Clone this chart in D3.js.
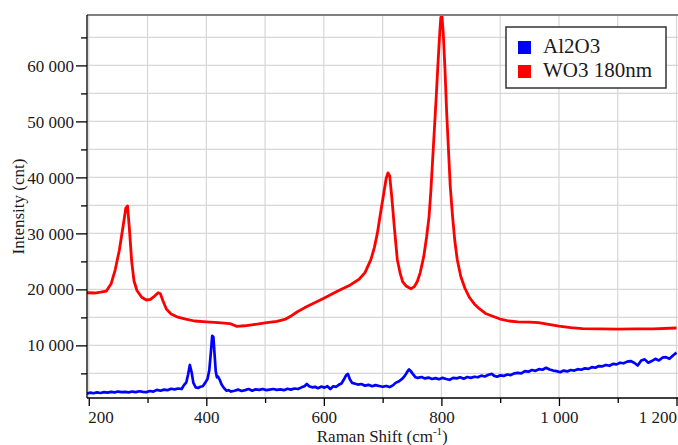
<!DOCTYPE html>
<html>
<head>
<meta charset="utf-8">
<script src="https://cdn.jsdelivr.net/npm/d3@7"></script>
<style>
  html, body { margin: 0; padding: 0; background: #fff; }
  svg { display: block; }
  svg text { font-family: "Liberation Serif", "Times New Roman", serif !important; fill: #1a1a1a; }
</style>
</head>
<body>
<svg id="chart" width="678" height="445"></svg>
<script>
// ---------------- data ----------------
const seriesNames = ["Al2O3", "WO3 180nm"];
const seriesColors = ["#0000ff", "#ff0000"];

const wo3Shift = [197,210,220,230,238,245,252,258,263,266,269,273,277,282,290,298,305,312,318,322,326,332,340,350,365,380,400,420,440,452,465,480,500,520,535,545,555,567,580,600,622,645,660,670,680,686,691,697,702,706,709,712,716,720,725,730,734,740,748,754,759,764,770,775,779,782,785,788,791,794,797,799,801,803,806,809,812,815,819,823,827,833,840,848,856,865,875,885,900,915,930,950,965,980,1000,1020,1040,1070,1100,1130,1160,1200];
const wo3Intensity = [19400,19350,19500,19700,21000,23500,27000,31000,34500,34900,31000,25000,21500,19800,18600,18100,18200,18800,19400,19200,18000,16500,15600,15100,14700,14350,14200,14050,13900,13400,13500,13700,14000,14300,14700,15300,16000,16700,17400,18400,19600,20800,21800,23000,25300,27500,30000,34000,37200,39800,40800,40300,36000,31000,25300,22800,21400,20600,20100,20500,21400,23000,25900,29500,33000,37500,43000,48500,54000,60000,65500,68600,68700,66000,59500,51500,45000,38500,33000,28500,25300,22300,20200,18500,17400,16500,15700,15300,14700,14350,14200,14150,14050,13800,13450,13150,13000,12950,12900,12950,12950,13100];

const al2o3Shift = [197,203,208,214,220,226,232,238,244,250,256,262,268,274,280,286,292,298,304,310,316,322,328,334,340,346,352,358,362,366,369,372,375,378,382,386,390,394,398,402,405,408,410,412,414,416,418,420,423,426,430,434,438,442,448,454,460,466,472,478,484,490,496,502,508,514,520,526,532,538,544,550,556,562,567,571,575,580,585,590,596,601,606,611,616,621,626,630,634,638,641,644,648,652,658,664,670,676,682,688,694,700,706,712,718,722,728,734,738,742,745,748,752,756,760,766,772,778,784,790,796,802,808,814,820,826,832,838,844,850,856,862,868,874,880,886,890,895,900,906,912,918,924,930,936,942,948,954,960,966,972,978,984,990,996,1002,1008,1014,1020,1026,1032,1038,1044,1050,1056,1062,1068,1074,1080,1086,1092,1098,1104,1110,1116,1122,1128,1134,1140,1146,1152,1158,1164,1170,1176,1182,1188,1194,1200];
const al2o3Intensity = [1400,1550,1450,1600,1500,1650,1550,1700,1600,1750,1650,1700,1600,1750,1650,1800,1700,1650,1850,1750,2050,1900,2100,2000,2250,2150,2300,2200,2900,3400,4800,6500,5200,3300,2500,2400,2600,2700,3300,4000,5500,9000,11700,11500,8500,5400,4300,4400,3800,3000,2400,1900,2000,1750,1900,2100,1850,2000,2200,1900,2150,2050,2200,2000,2100,2200,2050,2150,2000,2250,2100,2300,2200,2500,2700,3100,2700,2500,2600,2350,2650,2450,2700,2200,2700,2600,3000,3200,3900,4700,4900,4000,3300,3200,3000,3100,2800,2950,2700,2900,2750,2600,2750,2550,2900,3300,3600,4100,4600,5300,5700,5400,4800,4300,4200,4350,4100,4250,4000,4150,3950,4200,4000,3850,4200,4100,4300,4050,4350,4200,4400,4300,4600,4450,4750,4900,4550,4400,4650,4550,4800,4700,5000,5100,5000,5400,5300,5600,5450,5750,5650,6000,5700,5500,5400,5200,5500,5350,5600,5500,5750,5650,5900,5800,6100,6000,6300,6250,6500,6350,6700,6600,6900,6800,7100,7200,6900,6400,7300,7500,6900,7200,7600,7300,7800,7900,7600,8200,8700];

const xTickValues = [200, 400, 600, 800, 1000, 1200];
const xMinorTicks = [300, 500, 700, 900, 1100];
const yTickValues = [10000, 20000, 30000, 40000, 50000, 60000];
const yMinorTicks = [5000, 15000, 25000, 35000, 45000, 55000, 65000];
const xDomain = [197, 1200];
const yDomain = [600, 69000];
const xTitle = "Raman Shift (cm";
const yTitle = "Intensity (cnt)";

// ---------------- layout ----------------
const L = 87, R = 676.5, T = 15, B = 398;
const SERIF = "'Liberation Serif', 'Times New Roman', serif";
const svg = d3.select("#chart");
const x = d3.scaleLinear().domain(xDomain).range([L, R]);
const y = d3.scaleLinear().domain(yDomain).range([B, T]);

const loc = d3.formatLocale({decimal: ".", thousands: "\u00a0", grouping: [3], currency: ["", ""]});
const fmt = loc.format(",");

// grid
const grid = svg.append("g").attr("stroke", "#d6d6d6").attr("stroke-width", 1.2);
d3.range(200, 1201, 100).forEach(v => {
  grid.append("line").attr("x1", x(v)).attr("x2", x(v)).attr("y1", T).attr("y2", B);
});
d3.range(5000, 65001, 5000).forEach(v => {
  grid.append("line").attr("x1", L).attr("x2", R + 2).attr("y1", y(v)).attr("y2", y(v));
});

// clip
svg.append("clipPath").attr("id", "clip").append("rect")
  .attr("x", L).attr("y", T - 2).attr("width", 678 - L).attr("height", B - T + 2);

const line = d3.line().x(d => x(d[0])).y(d => y(d[1])).curve(d3.curveLinear);
const blueData = al2o3Shift.map((s, i) => [s, al2o3Intensity[i]]);
const redData = wo3Shift.map((s, i) => [s, wo3Intensity[i]]);

const plot = svg.append("g").attr("clip-path", "url(#clip)");
plot.append("path").datum(blueData).attr("d", line)
  .attr("fill", "none").attr("stroke", seriesColors[0]).attr("stroke-width", 2.7)
  .attr("stroke-linejoin", "round");
plot.append("path").datum(redData).attr("d", line)
  .attr("fill", "none").attr("stroke", seriesColors[1]).attr("stroke-width", 2.8)
  .attr("stroke-linejoin", "round");

// top frame
svg.append("line").attr("x1", L).attr("x2", 678).attr("y1", T).attr("y2", T)
  .attr("stroke", "#808080").attr("stroke-width", 2);

// y axis
const yAxis = svg.append("g").attr("transform", `translate(${L},0)`)
  .call(d3.axisLeft(y).tickValues(yTickValues).tickSize(11).tickPadding(2).tickFormat(fmt));
svg.append("g").attr("transform", `translate(${L},0)`)
  .call(d3.axisLeft(y).tickValues(yMinorTicks).tickSize(6).tickFormat(""))
  .call(g => g.select(".domain").remove());
yAxis.select(".domain").attr("d", `M0,${T}V${B}`);

// x axis
const xAxis = svg.append("g").attr("transform", `translate(0,${B})`)
  .call(d3.axisBottom(x).tickValues(xTickValues).tickSize(8).tickPadding(6).tickFormat(fmt));
svg.append("g").attr("transform", `translate(0,${B})`)
  .call(d3.axisBottom(x).tickValues(xMinorTicks).tickSize(5).tickFormat(""))
  .call(g => g.select(".domain").remove());
xAxis.select(".domain").attr("d", `M${L},0H${678}`);

svg.selectAll("g").attr("font-family", SERIF);
svg.selectAll(".tick line, .domain").attr("stroke", "#000").attr("stroke-width", 1.3);
svg.selectAll(".tick text").attr("font-size", 17)
  .style("font-family", SERIF).attr("fill", "#1a1a1a");
xAxis.selectAll(".tick text").attr("dy", null).attr("y", 25)
  .attr("text-anchor", (d, i) => i === 0 ? "start" : (i === xTickValues.length - 1 ? "end" : "middle"))
  .attr("dx", (d, i) => i === 0 ? -1 : 0);
yAxis.selectAll(".tick text").attr("dy", "0.33em");

// axis titles
const xt = svg.append("text").attr("x", (L + R) / 2 + 0.5).attr("y", 442)
  .attr("text-anchor", "middle").attr("font-size", 17).style("font-family", SERIF);
xt.append("tspan").text(xTitle);
xt.append("tspan").attr("font-size", 11).attr("dy", -7).text("-1");
xt.append("tspan").attr("dy", 7).text(")");

svg.append("text").attr("transform", "translate(24,206.5) rotate(-90)")
  .attr("text-anchor", "middle").attr("font-size", 17).style("font-family", SERIF).text(yTitle);

// legend
const lg = svg.append("g");
lg.append("rect").attr("x", 506).attr("y", 27).attr("width", 160).attr("height", 61)
  .attr("fill", "#fff").attr("stroke", "#333").attr("stroke-width", 1.5);
seriesNames.forEach((n, i) => {
  lg.append("rect").attr("x", 518).attr("y", 41 + i * 24).attr("width", 13).attr("height", 13)
    .attr("fill", seriesColors[i]);
  lg.append("text").attr("x", 543).attr("y", 53 + i * 24).attr("font-size", 21)
    .style("font-family", SERIF).text(n);
});
</script>
</body>
</html>
